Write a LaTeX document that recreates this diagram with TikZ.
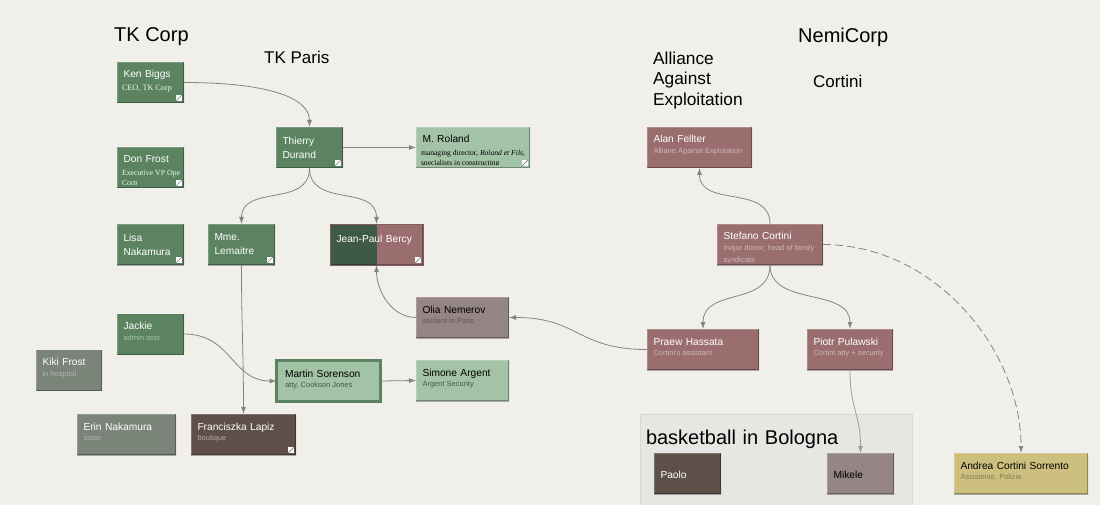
\documentclass[tikz,border=0pt]{standalone}
\usepackage{fontspec}
\setmainfont{Liberation Sans}
\newfontfamily\subserif{Liberation Serif}
\usetikzlibrary{arrows.meta,positioning}

\definecolor{paper}{HTML}{F0EFEA}
\definecolor{groupfill}{HTML}{E6E7E3}
\definecolor{tkgreen}{HTML}{5B8360}
\definecolor{tkdark}{HTML}{3F5A44}
\definecolor{tklight}{HTML}{A3C3A6}
\definecolor{nemired}{HTML}{9A6E6F}
\definecolor{nemigrey}{HTML}{968587}
\definecolor{famgrey}{HTML}{7A8478}
\definecolor{brown}{HTML}{5E5049}
\definecolor{sand}{HTML}{CDC07F}
\definecolor{wire}{HTML}{85847F}

\newcommand{\cardedges}{%
  \draw[white,opacity=.2,line width=1.2pt] (path picture bounding box.south west) -- (path picture bounding box.north west) -- (path picture bounding box.north east);
  \draw[black,opacity=.3,line width=1.6pt] (path picture bounding box.south west) -- (path picture bounding box.south east) -- (path picture bounding box.north east);}
\newcommand{\cardicon}{%
  \fill[white] ([shift={(-8,2)}]path picture bounding box.south east) rectangle ([shift={(-2,8)}]path picture bounding box.south east);
  \draw[gray,line width=.7pt] ([shift={(-8,2)}]path picture bounding box.south east) -- ([shift={(-2,8)}]path picture bounding box.south east);}
\newcommand{\cardtext}[2]{%
  \begin{scope}
    \clip ([shift={(4,-2)}]path picture bounding box.north west) rectangle ([shift={(-4.5,3)}]path picture bounding box.south east);
    \node[subtext] at ([shift={(#1,-21.5)}]path picture bounding box.north west) {#2};
  \end{scope}}

\begin{document}
\begin{tikzpicture}[x=1pt,y=1pt,
  card/.style={anchor=north west, outer sep=0pt, inner xsep=6.5pt, inner ysep=0pt, align=left,
    font=\fontsize{10.2}{14}\selectfont, text height=16pt, text depth=25pt, minimum height=41pt,
    path picture={\cardedges}},
  cardw/.style={text width=#1pt-13pt},
  twoline/.style={text height=, text depth=},
  subtext/.style={anchor=north west, inner sep=0pt, align=left, text height=, text depth=, text width=,
    minimum height=0pt, font=\fontsize{7.5}{11.5}\selectfont},
  serif/.style={subtext/.append style={font=\subserif\fontsize{#1}{9.5}\selectfont, yshift=-2pt, text=white!92!tkgreen}},
  serif/.default=8.2,
  sub/.style={path picture={\cardedges\cardtext{6.5}{#1}}},
  subicon/.style={path picture={\cardedges\cardicon\cardtext{5}{#1}}},
  icon/.style={path picture={\cardedges\cardicon}},
  greenbox/.style={card, fill=tkgreen, text=white, subtext/.append style={text=tklight}},
  lightbox/.style={card, fill=tklight, text=black, subtext/.append style={text=black!30!tkgreen}},
  redbox/.style={card, fill=nemired, text=white, subtext/.append style={text=white!50!nemired}},
  greybox/.style={card, fill=nemigrey, text=black, subtext/.append style={text=black!35!nemigrey}},
  familybox/.style={card, fill=famgrey, text=white, subtext/.append style={text=white!40!famgrey}},
  brownbox/.style={card, fill=brown, text=white, subtext/.append style={text=white!50!brown}},
  sandbox/.style={card, fill=sand, text=black, subtext/.append style={text=black!35!sand}},
  heading/.style={anchor=west, inner sep=0pt, align=left, font=\fontsize{20}{24}\selectfont},
  subheading/.style={anchor=west, inner sep=0pt, align=left, font=\fontsize{17}{20.5}\selectfont},
  arr/.style={-{Latex[length=7pt,width=5pt]}, draw=wire, line width=.8pt}]
\useasboundingbox (0,0) rectangle (1100,-505);
\fill[paper] (0,0) rectangle (1100,-505);

% headings
\node[heading] (tkcorp) at (114,-37) {TK Corp};
\node[subheading] (tkparis) at (264,-57) {TK Paris};
\node[subheading, font=\fontsize{17.3}{20.5}\selectfont] (alliance) at (653,-80.5) {Alliance\\Against\\Exploitation};
\node[heading] (nemicorp) at (798,-37) {NemiCorp};
\node[subheading] (cortini) at (813,-81) {Cortini};

% group
\node[anchor=north west, outer sep=0pt, draw=black!6!groupfill, fill=groupfill, minimum width=272pt, minimum height=91pt,
  inner xsep=6pt, inner ysep=0pt, align=left, text width=260pt, text height=30pt, text depth=61pt,
  font=\fontsize{20}{24}\selectfont] (bologna) at (640,-414) {basketball in Bologna};

% TK Corp column
\node[greenbox, cardw=67, serif, subicon={CEO, TK Corp}] (ken) at (117,-62) {Ken Biggs};
\node[greenbox, cardw=67, serif=7.8, below=44pt of ken, subicon={Executive VP Ope\\Corp}] (don) {Don Frost};
\node[greenbox, cardw=67, twoline, icon, below=36pt of don] (lisa) {Lisa\\Nakamura};
\node[greenbox, cardw=67, below=48.5pt of lisa, sub={admin asst}] (jackie) {Jackie};
\node[greenbox, cardw=67, twoline, icon, right=24pt of lisa] (mme) {Mme.\\Lemaitre};
\node[familybox, cardw=66, sub={in hospital}] (kiki) at (36,-349.5) {Kiki Frost};
\node[familybox, cardw=99, sub={sister}] (erin) at (77,-414) {Erin Nakamura};
\node[brownbox, cardw=105, subicon={\hspace{1.5pt}boutique}] (lapiz) at (191,-414) {Franciszka Lapiz};

% TK Paris
\node[greenbox, cardw=67, twoline, icon] (thierry) at (276,-127) {Thierry\\Durand};
\node[lightbox, cardw=114, serif=7.6, subtext/.append style={text=black}, right=73pt of thierry,
  subicon={managing director, \textit{Roland et Fils,}\\specialists in constructing}] (roland) {M. Roland};
\node[card, cardw=93, fill=nemired, text=white, draw=nemired!85!black, line width=.8pt, text height=19pt, text depth=22pt,
  path picture={\fill[tkdark] (path picture bounding box.south west) rectangle (path picture bounding box.north);\cardedges\cardicon}] (bercy) at (330,-224) {Jean-Paul Bercy};
\node[lightbox, cardw=100, draw=tkgreen, line width=3pt, inner xsep=8.5pt, text height=16pt, text depth=23.5pt,
  path picture={\node[subtext] at ([shift={(8.5,-22)}]path picture bounding box.north west) {atty, Cookson Jones};}] (martin) at (276.5,-360.5) {Martin Sorenson};
\node[lightbox, cardw=93, sub={Argent Security}] (simone) at (416,-360) {Simone Argent};
\node[greybox, cardw=93, above=22pt of simone, sub={student in Paris}] (olia) {Olia Nemerov};

% NemiCorp
\node[redbox, cardw=105, sub={Alliane Against Explotation}] (alan) at (647,-127) {Alan Fellter};
\node[redbox, cardw=106, sub={major donor; head of family\\syndicate}] (stefano) at (717,-224) {Stefano Cortini};
\node[redbox, cardw=112, sub={Cortini's assistant}] (praew) at (647,-329) {Praew Hassata};
\node[redbox, cardw=86, right=48pt of praew, sub={Cortini atty + security}] (piotr) {Piotr Pulawski};
\node[brownbox, cardw=67, text height=25pt, text depth=16pt] (paolo) at (654,-453) {Paolo};
\node[greybox, cardw=67, text height=25pt, text depth=16pt, right=106pt of paolo] (mikele) {Mikele};
\node[sandbox, cardw=134, sub={Assistente, Polizia}] (andrea) at (954,-453) {Andrea Cortini Sorrento};

% connectors
\draw[arr] (ken.east) .. controls +(82,0) and +(0,30) .. (thierry.north);
\draw[arr] (thierry.east) -- (roland.west);
\draw[arr] (thierry.south) .. controls +(0,-40) and +(0,40) .. (mme.north);
\draw[arr] (thierry.south) .. controls +(0,-40) and +(0,40) .. (bercy.north);
\draw[arr] (mme.south) .. controls +(0,-60) and +(0,60) .. (lapiz.north);
\draw[arr] (jackie.east) .. controls +(48,0) and +(-45,0) .. (martin.west);
\draw[arr] (martin.east) -- (simone.west);
\draw[arr] (olia.west) .. controls +(-25,0) and +(0,-25) .. (bercy.south);
\draw[arr] (praew.west) .. controls +(-70,0) and +(70,0) .. (olia.east);
\draw[arr] (stefano.north) .. controls +(0,40) and +(0,-40) .. (alan.south);
\draw[arr] (stefano.south) .. controls +(0,-42) and +(0,42) .. (praew.north);
\draw[arr] (stefano.south) .. controls +(0,-42) and +(0,42) .. (piotr.north);
\draw[arr, draw=wire!80!white] (piotr.south) .. controls +(0,-40) and +(0,40) .. (mikele.north);
\draw[arr, dashed, dash pattern=on 8pt off 4pt] (stefano.east) .. controls +(112,0) and +(0,103) .. (andrea.north);
\end{tikzpicture}
\end{document}
